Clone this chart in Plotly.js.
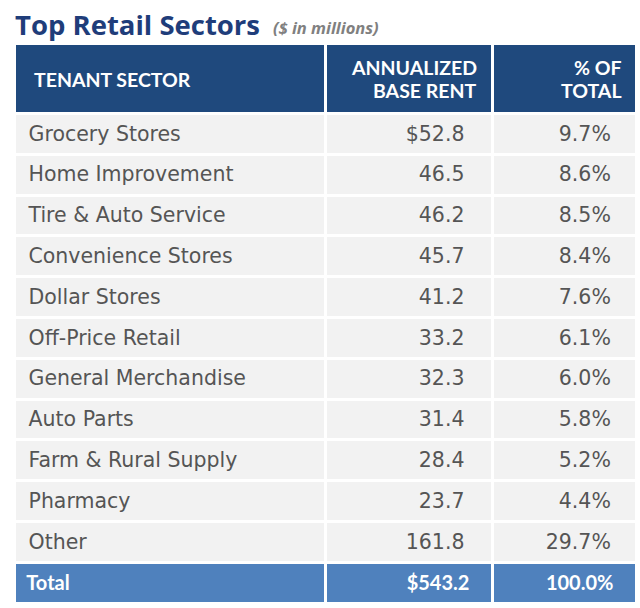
<!DOCTYPE html>
<html>
<head>
<meta charset="utf-8">
<script src="https://cdn.plot.ly/plotly-3.0.1.min.js"></script>
<style>html,body{margin:0;padding:0;background:#fff;}#chart{width:640px;height:608px;}</style>
</head>
<body>
<div id="chart"></div>
<script>
const titleText = "Top Retail Sectors";
const subtitleText = "($ in millions)";
const headers = [["TENANT SECTOR"], ["ANNUALIZED", "BASE RENT"], ["% OF", "TOTAL"]];
const sectors = ["Grocery Stores", "Home Improvement", "Tire & Auto Service", "Convenience Stores",
  "Dollar Stores", "Off-Price Retail", "General Merchandise", "Auto Parts",
  "Farm & Rural Supply", "Pharmacy", "Other"];
const rent = [52.8, 46.5, 46.2, 45.7, 41.2, 33.2, 32.3, 31.4, 28.4, 23.7, 161.8];
const pct = [9.7, 8.6, 8.5, 8.4, 7.6, 6.1, 6.0, 5.8, 5.2, 4.4, 29.7];
const totalLabel = "Total";
const totalRent = 543.2;
const totalPct = 100.0;

const W = 640, H = 608;
const BODY = "'DejaVu Sans', sans-serif";
const BOLD = "Lato, 'DejaVu Sans', sans-serif";
const TITLE = "'Open Sans', Lato, sans-serif";
const NB = "\u00a0", TH = "\u2009";
const esc = s => s.replace(/&/g, "&amp;").replace(/ /g, NB);
const wrap = s => "<span>" + s + "</span>";
const n = sectors.length;

const col1 = sectors.map(s => wrap(NB + esc(s)))
  .concat([wrap("<b>" + NB + totalLabel + "</b>")]);
const col2 = rent.map((v, i) => wrap((i === 0 ? "$" : "") + v.toFixed(1) + NB + NB + NB))
  .concat([wrap("<b>$" + totalRent.toFixed(1) + NB + NB + NB + "</b>")]);
const col3 = pct.map(v => wrap(v.toFixed(1) + "%" + NB + NB + TH))
  .concat([wrap("<b>" + totalPct.toFixed(1) + "%" + NB + NB + NB + "</b>")]);

const fillCol = [], fontCol = [], famCol = [], sizeCol = [];
for (let i = 0; i < n; i++) { fillCol.push("#f2f2f2"); fontCol.push("#555555"); famCol.push(BODY); sizeCol.push(20.5); }
fillCol.push("#4f81bd"); fontCol.push("#ffffff"); famCol.push(BOLD); sizeCol.push(20);

const tablePx = 43.5;
const trace = {
  type: "table",
  domain: {x: [14/W, 636/W], y: [0, 1 - tablePx/H]},
  columnwidth: [311, 167, 144],
  header: {
    values: ["", "", ""],
    height: 70,
    fill: {color: "#1f497d"},
    line: {color: "#ffffff", width: 3}
  },
  cells: {
    values: [col1, col2, col3],
    align: ["left", "right", "right"],
    height: 40.8,
    fill: {color: [fillCol, fillCol, fillCol]},
    line: {color: "#ffffff", width: 3},
    font: {family: [famCol, famCol, famCol], size: [sizeCol, sizeCol, sizeCol], color: [fontCol, fontCol, fontCol]}
  }
};

function ann(text, xpx, ypx, xanchor, font) {
  return {xref: "paper", yref: "paper", x: xpx / W, y: 1 - ypx / H, xanchor: xanchor, yanchor: "middle",
    showarrow: false, text: text, font: font, borderpad: 0};
}
const hFont = {family: BOLD, size: 19.5, color: "#ffffff"};
const annotations = [
  ann("<b>" + titleText + "</b>", 14, 24, "left", {family: TITLE, size: 27.5, color: "#1f3d7a"}),
  ann("<b><i>" + subtitleText + "</i></b>", 272, 28, "left", {family: TITLE, size: 16.5, color: "#808080"}),
  ann("<b>" + headers[0][0] + "</b>", 33, 80, "left", hFont),
  ann("<b>" + headers[1][0] + "</b>", 478, 68, "right", hFont),
  ann("<b>" + headers[1][1] + "</b>", 478, 90, "right", hFont),
  ann("<b>" + headers[2][0] + "</b>", 623, 68, "right", hFont),
  ann("<b>" + headers[2][1] + "</b>", 623, 90, "right", hFont)
];

const layout = {
  width: W, height: H,
  margin: {l: 0, r: 0, t: 0, b: 0},
  paper_bgcolor: "#ffffff",
  showlegend: false,
  annotations: annotations
};

Plotly.newPlot("chart", [trace], layout, {displayModeBar: false, staticPlot: true});
</script>
</body>
</html>
